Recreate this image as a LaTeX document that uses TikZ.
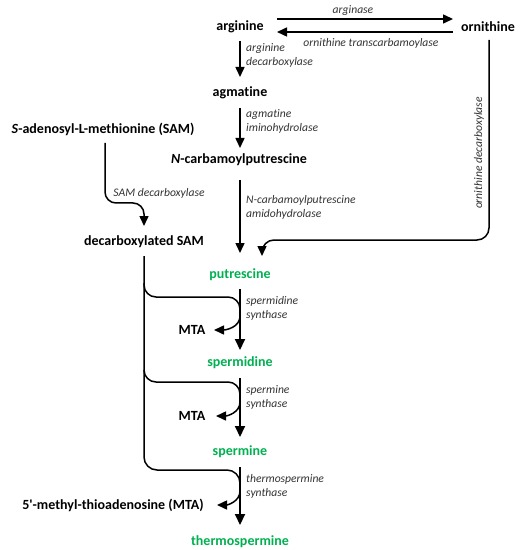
\documentclass[tikz,border=0pt]{standalone}
\usepackage{fontspec}
\setmainfont{Carlito}[Ligatures={NoCommon}]
\usetikzlibrary{arrows.meta}
\definecolor{pgreen}{HTML}{00B050}
\begin{document}
\begin{tikzpicture}[x=1bp,y=-1bp,
  met/.style={inner sep=0pt,font=\fontsize{14bp}{16bp}\selectfont\bfseries},
  poly/.style={met,text=pgreen},
  enz/.style={inner sep=0pt,font=\fontsize{11.6bp}{14bp}\selectfont\itshape,text=black!80},
  enzl/.style={enz,anchor=west,align=left},
  conn/.style={line width=1.5bp},
  arr/.style={conn,-{Triangle[length=10bp,width=9bp]}},
  marr/.style={line width=2bp,-{Triangle[length=11bp,width=10bp]}},
  feedline/.style={conn,rounded corners=12bp}]
\useasboundingbox (0,0) rectangle (522,550);
% metabolites
\node[met] (arg) at (240,27) {arginine};
\node[met] (orn) at (488,27) {ornithine};
\node[met] (agm) at (240,93) {agmatine};
\node[met] (sam) at (103,129) {\textit{S}-adenosyl-L-methionine (SAM)};
\node[met] (ncp) at (239,160) {\textit{N}-carbamoylputrescine};
\node[met] (dsam) at (144,242) {decarboxylated SAM};
\node[poly] (put) at (240,275) {putrescine};
\node[poly] (spd) at (240,363) {spermidine};
\node[poly] (spm) at (240,452) {spermine};
\node[poly] (tspm) at (240,542) {thermospermine};
\node[met] (mta1) at (192,330) {MTA};
\node[met] (mta2) at (192,416) {MTA};
\node[met] (mta3) at (113,505) {5\textquotesingle-methyl-thioadenosine (MTA)};
% enzymes
\node[enz] (e1) at (353,11) {arginase};
\node[enz] (e2) at (371,43) {ornithine transcarbamoylase};
\node[enzl] (e3) at (246,55) {arginine\\decarboxylase};
\node[enzl] (e4) at (246,121) {agmatine\\iminohydrolase};
\node[enzl] (e5) at (246,207) {\textit{N}-carbamoylputrescine\\amidohydrolase};
\node[enz] (e6) at (159,193) {SAM decarboxylase};
\node[enz,rotate=90] (e7) at (479,153) {ornithine decarboxylase};
\node[enzl] (e8) at (246,308) {spermidine\\synthase};
\node[enzl] (e9) at (246,397) {spermine\\synthase};
\node[enzl] (e10) at (246,486) {thermospermine\\synthase};
% top reactions
\draw[arr] ([xshift=37bp,yshift=8bp]arg.center) -- ([xshift=-35bp,yshift=8bp]orn.center);
\draw[arr] ([xshift=-35bp,yshift=-5bp]orn.center) -- ([xshift=37bp,yshift=-5bp]arg.center);
\draw[arr,shorten <=14bp,shorten >=16bp] (arg.center) -- (agm.center);
\draw[arr,shorten <=15bp,shorten >=12bp] (agm.center) -- ([xshift=1bp]ncp.center);
\draw[arr,shorten <=20bp,shorten >=22bp] ([xshift=1bp]ncp.center) -- (put.center);
% SAM decarboxylation
\coordinate (s1) at (105,143);
\coordinate (s2) at (144,226);
\draw[arr,rounded corners=11bp] (s1) -- (105,203) -- (144,203) -- (s2);
% ornithine decarboxylase
\coordinate (o1) at (489,40);
\coordinate (o2) at (262,256);
\draw[arr,rounded corners=12bp] (o1) -- (489,240) -- (262,240) -- (o2);
% polyamine chain
\draw[marr,shorten <=14bp,shorten >=13bp] (put.center) -- (spd.center);
\draw[marr,shorten <=15bp,shorten >=15bp] (spd.center) -- (spm.center);
\draw[marr,shorten <=15bp,shorten >=17bp] (spm.center) -- (tspm.center);
% decarboxylated SAM feeding
\coordinate (d0) at (144,256);
\coordinate (j1) at (240,320);
\coordinate (j2) at (240,405);
\coordinate (j3) at (240,493);
\draw[feedline,rounded corners=13bp] (d0) -- (144,470) -- (240,470) -- (j3);
\draw[feedline] (144,283) -- (144,297) -- (240,297) -- (j1);
\draw[feedline] (144,370) -- (144,382) -- (240,382) -- (j2);
% MTA release
\draw[arr] (240,316) to[out=-90,in=0] (214,330);
\draw[arr] (240,402) to[out=-90,in=0] (216,416);
\draw[arr] (240,491) to[out=-90,in=0] (217,505);
\end{tikzpicture}
\end{document}
